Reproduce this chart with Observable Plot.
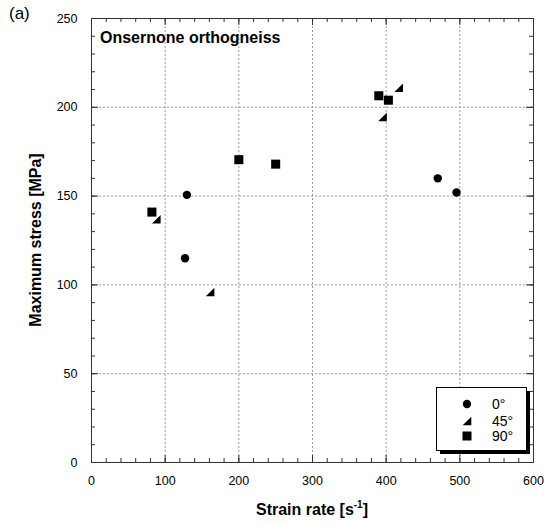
<!DOCTYPE html>
<html>
<head>
<meta charset="utf-8">
<script src="https://cdn.jsdelivr.net/npm/d3@7"></script>
<script src="https://cdn.jsdelivr.net/npm/@observablehq/plot@0.6"></script>
<style>
  html, body { margin: 0; padding: 0; background: white; }
  #chart { position: relative; width: 555px; height: 524px; }
</style>
</head>
<body>
<div id="chart"></div>
<script>
// ---- data ----
const x0 = [129.5, 127, 470, 495.5];
const y0 = [150.7, 115, 160, 152];
const x45 = [88, 161, 395, 417];
const y45 = [137, 96, 194.5, 211];
const x90 = [82, 200, 250, 390, 403];
const y90 = [141, 170.5, 168, 206.5, 204];

const xTicks = [0, 100, 200, 300, 400, 500, 600];
const yTicks = [0, 50, 100, 150, 200, 250];
const xGrid = [100, 200, 300, 400, 500];
const yGrid = [50, 100, 150, 200];
const xMinor = d3.range(0, 601, 20);
const yMinor = d3.range(0, 251, 10);

const legendLabels = ["0°", "45°", "90°"];
const titleText = "Onsernone orthogneiss";
const panelLabel = "(a)";
const xLabel = ["Strain rate [s", "-1", "]"];
const yLabel = "Maximum stress [MPa]";

const toRows = (xs, ys) => xs.map((x, i) => ({x, y: ys[i]}));

// right triangle symbol (right angle at bottom-right)
const rightTriangle = {
  draw(ctx, size) {
    const r = Math.sqrt(size / Math.PI);
    ctx.moveTo(-r, r);
    ctx.lineTo(r, r);
    ctx.lineTo(r, -r);
    ctx.closePath();
  }
};

const W = 555, H = 524;
const mL = 91, mR = 22, mT = 18, mB = 62;
const fw = W - mL - mR, fh = H - mT - mB;
const tickColor = "#333";

const svgEl = Plot.plot({
  width: W,
  height: H,
  marginLeft: mL,
  marginRight: mR,
  marginTop: mT,
  marginBottom: mB,
  style: {fontFamily: "'Liberation Sans', Arial, Helvetica, sans-serif", fontSize: "12px", background: "white", color: "black"},
  x: {domain: [0, 600]},
  y: {domain: [0, 250]},
  marks: [
    Plot.ruleX(xGrid, {stroke: "#999", strokeDasharray: "2,2"}),
    Plot.ruleY(yGrid, {stroke: "#999", strokeDasharray: "2,2"}),
    // minor ticks (inward, all sides)
    Plot.ruleX(xMinor, {x: d => d, insetTop: fh - 4, stroke: tickColor}),
    Plot.ruleX(xMinor, {x: d => d, insetBottom: fh - 4, stroke: tickColor}),
    Plot.ruleY(yMinor, {y: d => d, insetRight: fw - 4, stroke: tickColor}),
    Plot.ruleY(yMinor, {y: d => d, insetLeft: fw - 4, stroke: tickColor}),
    // major ticks
    Plot.ruleX(xTicks, {x: d => d, insetTop: fh - 7, stroke: tickColor}),
    Plot.ruleX(xTicks, {x: d => d, insetBottom: fh - 7, stroke: tickColor}),
    Plot.ruleY(yTicks, {y: d => d, insetRight: fw - 7, stroke: tickColor}),
    Plot.ruleY(yTicks, {y: d => d, insetLeft: fw - 7, stroke: tickColor}),
    Plot.frame({stroke: tickColor}),
    Plot.axisX({ticks: xTicks, tickSize: 0, tickPadding: 14, fontSize: 12.5, label: null}),
    Plot.axisY({ticks: yTicks, tickSize: 0, tickPadding: 14, fontSize: 12.5, label: null}),
    Plot.dot(toRows(x0, y0), {x: "x", y: "y", r: 4.2, symbol: "circle", fill: "black", stroke: "none"}),
    Plot.dot(toRows(x45, y45), {x: "x", y: "y", r: 4.3, symbol: rightTriangle, fill: "black", stroke: "none"}),
    Plot.dot(toRows(x90, y90), {x: "x", y: "y", r: 5.1, symbol: "square", fill: "black", stroke: "none"})
  ]
});

document.getElementById("chart").appendChild(svgEl);

const svg = d3.select(svgEl);
const font = "'Liberation Sans', Arial, Helvetica, sans-serif";

// panel label
svg.append("text").attr("x", 9).attr("y", 19).attr("text-anchor", "start")
  .style("font-family", font).style("font-size", "17px").attr("fill", "black")
  .text(panelLabel);

// title inside plot
svg.append("text").attr("x", 100).attr("y", 43).attr("text-anchor", "start")
  .style("font-family", font).style("font-size", "16px").style("font-weight", "bold").attr("fill", "black")
  .text(titleText);

// x label with superscript
const xl = svg.append("text").attr("x", mL + fw / 2).attr("y", 515)
  .attr("text-anchor", "middle")
  .style("font-family", font).style("font-size", "16px").style("font-weight", "bold").attr("fill", "black");
xl.append("tspan").text(xLabel[0]);
xl.append("tspan").attr("dy", -7).style("font-size", "10px").text(xLabel[1]);
xl.append("tspan").attr("dy", 7).text(xLabel[2]);

// y label
svg.append("text").attr("transform", `translate(41,${mT + fh / 2}) rotate(-90)`)
  .attr("text-anchor", "middle")
  .style("font-family", font).style("font-size", "16px").style("font-weight", "bold").attr("fill", "black")
  .text(yLabel);

// legend
const lg = svg.append("g");
lg.append("rect").attr("x", 440).attr("y", 391).attr("width", 90).attr("height", 63).attr("fill", "black");
lg.append("rect").attr("x", 436.5).attr("y", 387.5).attr("width", 90).attr("height", 63)
  .attr("fill", "white").attr("stroke", "black").attr("stroke-width", 1);
const sx = 467, rows = [404, 421, 436];
lg.append("circle").attr("cx", sx).attr("cy", rows[0]).attr("r", 4.2).attr("fill", "black");
lg.append("path").attr("d", `M${sx - 4.3},${rows[1] + 4.3}L${sx + 4.3},${rows[1] + 4.3}L${sx + 4.3},${rows[1] - 4.3}Z`).attr("fill", "black");
lg.append("rect").attr("x", sx - 4.5).attr("y", rows[2] - 4.5).attr("width", 9).attr("height", 9).attr("fill", "black");
legendLabels.forEach((t, i) => {
  lg.append("text").attr("x", 492).attr("y", rows[i]).attr("dy", "0.36em").attr("text-anchor", "start")
    .style("font-family", font).style("font-size", "14px").attr("fill", "black")
    .text(t);
});
</script>
</body>
</html>
